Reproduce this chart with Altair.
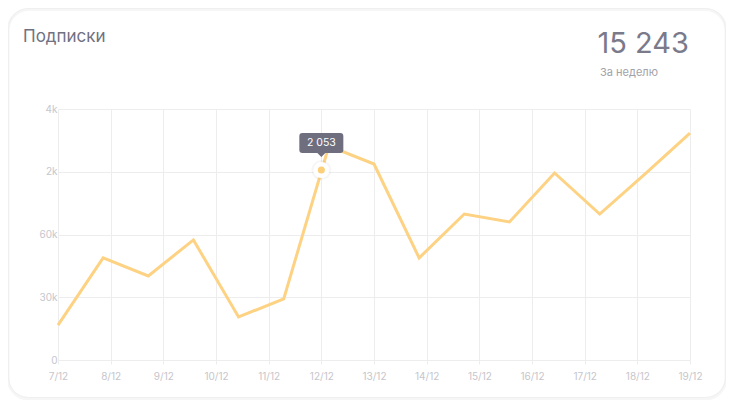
import altair as alt
import pandas as pd
import json

# ---- data ----
dates = ["7/12", "8/12", "9/12", "10/12", "11/12", "12/12", "13/12",
         "14/12", "15/12", "16/12", "17/12", "18/12", "19/12"]
values = [16.7, 48.8, 40.2, 57.4, 20.6, 29.2, 102.3, 93.7, 48.8, 69.8,
          66.0, 89.4, 69.8, 88.9, 108.5]
y_ticks = [0, 30, 60, 90, 120]
y_labels = ["0", "30k", "60k", "2k", "4k"]
title_text = "Подписки"
total_text = "15 243"
period_text = "За неделю"
hover_date = "12/12"
hover_value = 90.8
hover_label = "2 053"

n = len(values) - 1
m = len(dates) - 1
line_df = pd.DataFrame({"i": list(range(len(values))), "v": values})
hover_x = dates.index(hover_date) * n / m
hover_df = pd.DataFrame({"x": [hover_x], "v": [hover_value], "label": [hover_label]})
one = pd.DataFrame({"a": [0]})

FONT = "Inter"
LINE = "#fdd283"

x_vals = [i * n / m for i in range(len(dates))]
x_expr = json.dumps(dates) + f"[round(datum.value*{m}/{n})]"
y_expr = json.dumps(y_labels) + "[round(datum.value/30)]"

xscale = alt.Scale(domain=[0, n], nice=False, zero=False)
yscale = alt.Scale(domain=[0, 120], nice=False, zero=True)

xaxis = alt.Axis(values=x_vals, labelExpr=x_expr, title=None, domain=False,
                 ticks=True, tickSize=4, tickColor="#ededed", gridColor="#ededed",
                 labelColor="#c6c6cc", labelFont=FONT, labelFontSize=10,
                 labelPadding=7, labelFlush=False)
yaxis = alt.Axis(values=y_ticks, labelExpr=y_expr, title=None, domain=False,
                 ticks=False, gridColor="#ededed", labelColor="#c6c6cc",
                 labelFont=FONT, labelFontSize=10, labelPadding=1)

line = alt.Chart(line_df).mark_line(color=LINE, strokeWidth=3).encode(
    x=alt.X("i:Q", scale=xscale, axis=xaxis),
    y=alt.Y("v:Q", scale=yscale, axis=yaxis),
)

# hover dot
shadow = alt.Chart(hover_df).mark_point(filled=True, shape="circle", size=400,
                                        color="#000000", opacity=0.035).encode(
    x=alt.X("x:Q", scale=xscale), y=alt.Y("v:Q", scale=yscale))
halo = alt.Chart(hover_df).mark_point(filled=True, shape="circle", size=256,
                                      color="#ffffff", opacity=1).encode(
    x=alt.X("x:Q", scale=xscale), y=alt.Y("v:Q", scale=yscale))
dot = alt.Chart(hover_df).mark_point(filled=True, shape="circle", size=50,
                                     color="#fccf7a", opacity=1).encode(
    x=alt.X("x:Q", scale=xscale), y=alt.Y("v:Q", scale=yscale))

tip_path = ("M -0.864 -0.4545 L 0.864 -0.4545 Q 1 -0.4545 1 -0.318 L 1 0.318 "
            "Q 1 0.4545 0.864 0.4545 L 0.18 0.4545 L 0 0.636 L -0.18 0.4545 "
            "L -0.864 0.4545 Q -1 0.4545 -1 0.318 L -1 -0.318 "
            "Q -1 -0.4545 -0.864 -0.4545 Z")
tip = alt.Chart(hover_df).mark_point(filled=True, shape=tip_path, size=1936,
                                     color="#6e6e7f", opacity=1, yOffset=-27).encode(
    x=alt.X("x:Q", scale=xscale), y=alt.Y("v:Q", scale=yscale))
tip_text = alt.Chart(hover_df).mark_text(color="#ffffff", font=FONT, fontSize=10.5,
                                         baseline="middle", align="center",
                                         yOffset=-27).encode(
    x=alt.X("x:Q", scale=xscale), y=alt.Y("v:Q", scale=yscale), text="label:N")

# card outline (decoration)
card_shadow = alt.Chart(one).mark_rect(cornerRadius=21, fillOpacity=0,
                                       stroke="#f6f6f6", strokeWidth=3).encode(
    x=alt.value(-50), x2=alt.value(668), y=alt.value(-99.5), y2=alt.value(290))
card = alt.Chart(one).mark_rect(cornerRadius=20, fillOpacity=0,
                                stroke="#efefef", strokeWidth=1).encode(
    x=alt.value(-49.5), x2=alt.value(667.5), y=alt.value(-100.5), y2=alt.value(288.5))

title = alt.Chart(one).mark_text(text=title_text, font=FONT, fontSize=17,
                                 color="#717181", align="left",
                                 baseline="alphabetic").encode(
    x=alt.value(-35), y=alt.value(-67))
total = alt.Chart(one).mark_text(text=total_text, font=FONT, fontSize=29,
                                 color="#7a7a8b", align="right",
                                 baseline="alphabetic").encode(
    x=alt.value(631), y=alt.value(-56))
period = alt.Chart(one).mark_text(text=period_text, font=FONT, fontSize=11,
                                  color="#a2a2aa", align="left",
                                  baseline="alphabetic").encode(
    x=alt.value(542), y=alt.value(-33))

chart = alt.layer(card_shadow, card, line, shadow, halo, dot, tip, tip_text,
                  title, total, period).properties(
    width=632, height=251,
    autosize=alt.AutoSizeParams(type="none"),
    padding={"left": 50, "top": 101, "right": 36, "bottom": 40},
    background="#ffffff",
).configure_view(stroke=None)

chart.save("out.html", embed_options={"renderer": "svg", "actions": False})
